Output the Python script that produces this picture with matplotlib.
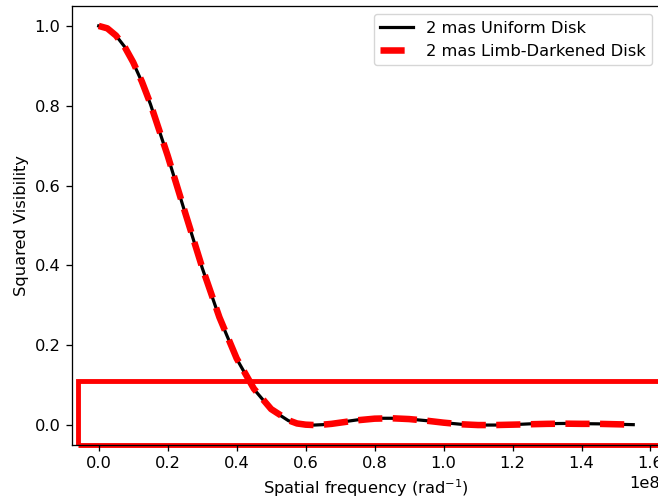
import numpy as np
import matplotlib
matplotlib.use('Agg')
import matplotlib.pyplot as plt
from matplotlib.patches import Rectangle

# spatial frequency (units of 1e8 rad^-1)
freq = [0.000, 0.025, 0.050, 0.075, 0.100, 0.125, 0.150, 0.200, 0.250, 0.300,
        0.350, 0.400, 0.450, 0.500, 0.550, 0.575, 0.600, 0.625, 0.650, 0.675,
        0.700, 0.725, 0.750, 0.800, 0.850, 0.900, 0.950, 1.000, 1.050, 1.100,
        1.150, 1.200, 1.250, 1.300, 1.350, 1.400, 1.450, 1.500, 1.550]

# squared visibility, 2 mas uniform disk
v2_ud = [1.000, 0.994, 0.976, 0.948, 0.908, 0.860, 0.804, 0.674, 0.533, 0.394,
         0.269, 0.166, 0.090, 0.039, 0.011, 0.004, 0.001, 0.000, 0.001, 0.004,
         0.007, 0.010, 0.013, 0.017, 0.017, 0.015, 0.011, 0.006, 0.002, 0.000,
         0.000, 0.001, 0.003, 0.0035, 0.004, 0.0035, 0.003, 0.002, 0.001]

# squared visibility, 2 mas limb-darkened disk
v2_ld = [1.000, 0.994, 0.976, 0.948, 0.909, 0.861, 0.805, 0.675, 0.534, 0.395,
         0.270, 0.167, 0.091, 0.040, 0.012, 0.004, 0.001, 0.000, 0.001, 0.003,
         0.006, 0.009, 0.012, 0.016, 0.017, 0.015, 0.011, 0.006, 0.002, 0.000,
         0.000, 0.001, 0.002, 0.003, 0.0035, 0.003, 0.003, 0.002, 0.001]

# original was rendered a bit larger, scale fonts and ticks up
s = 1.17
plt.rcParams['font.size'] = 10 * s
for a in ('xtick', 'ytick'):
    plt.rcParams[a + '.major.size'] = 3.5 * s
    plt.rcParams[a + '.major.pad'] = 3.5 * s
    plt.rcParams[a + '.major.width'] = 0.8 * s
plt.rcParams['axes.linewidth'] = 0.8 * s

x = np.array(freq) * 1e8

fig = plt.figure(figsize=(6.58, 4.99), dpi=100)
ax = fig.add_axes([0.1094, 0.1082, 0.8936, 0.8798])

ax.plot(x, v2_ud, color='black', lw=2.3, label='2 mas Uniform Disk')
ax.plot(x, v2_ld, color='red', lw=4.7, ls='--', label='2 mas Limb-Darkened Disk')

# highlight box around the low-visibility region
box = Rectangle((-0.06e8, -0.05), 1.76e8, 0.16, fill=False,
                edgecolor='red', lw=3.5, clip_on=False)
ax.add_artist(box)

ax.set_xlim(-0.0775e8, 1.6275e8)
ax.set_ylim(-0.05, 1.05)
ax.set_xlabel('Spatial frequency (rad$^{-1}$)')
ax.set_ylabel('Squared Visibility')
ax.legend(loc='upper right')

fig.savefig('out.png', dpi=100)
